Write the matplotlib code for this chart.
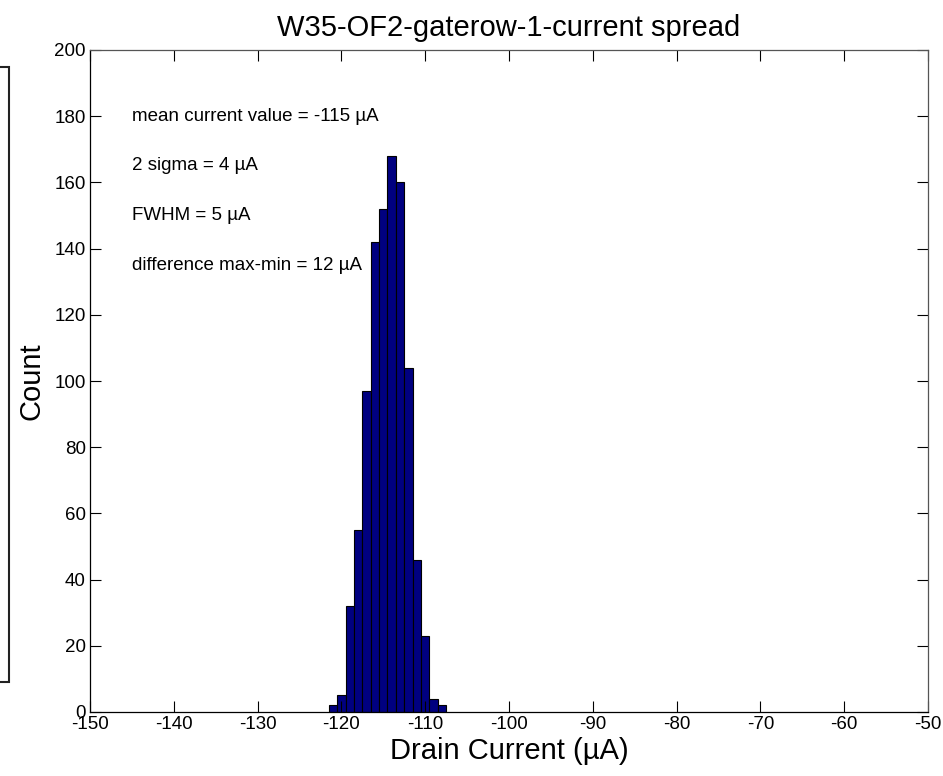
import matplotlib
matplotlib.use("Agg")
import matplotlib.pyplot as plt
from matplotlib.patches import Rectangle

plt.rcParams['font.family'] = ['Liberation Sans', 'DejaVu Sans']

# Data
bin_centers = [-121, -120, -119, -118, -117, -116, -115, -114, -113, -112, -111, -110, -109, -108]
counts = [2, 5, 32, 55, 97, 142, 152, 168, 160, 104, 46, 23, 4, 2]
bin_width = 1.0
x_ticks = [-150, -140, -130, -120, -110, -100, -90, -80, -70, -60, -50]
y_ticks = [0, 20, 40, 60, 80, 100, 120, 140, 160, 180, 200]
title = "W35-OF2-gaterow-1-current spread"
annotations = ["mean current value = -115 \u00b5A", "2 sigma = 4 \u00b5A",
               "FWHM = 5 \u00b5A", "difference max-min = 12 \u00b5A"]
annot_y = [180, 165, 150, 135]
annot_x = -145

W, H = 943, 776
fig = plt.figure(figsize=(W / 100, H / 100), dpi=100)
ax = fig.add_axes([90 / W, (H - 712) / H, 838 / W, 662 / H])

ax.bar(bin_centers, counts, width=bin_width, color='#000080', edgecolor='black', linewidth=0.8)

ax.set_xlim(-150, -50)
ax.set_ylim(0, 200)
ax.set_xticks(x_ticks)
ax.set_yticks(y_ticks)
ax.set_xticklabels([str(t) for t in x_ticks])
ax.set_yticklabels([str(t) for t in y_ticks])
ax.tick_params(direction='in', length=8, width=0.8, top=True, right=True,
               labelsize=13.5, colors='black', pad=3)
for s in ax.spines.values():
    s.set_linewidth(0.9)
    s.set_color('black')
ax.spines['top'].set_color('#555555')
ax.spines['right'].set_color('#555555')

ax.set_title(title, fontsize=21, pad=10)
ax.set_xlabel("Drain Current (\u00b5A)", fontsize=21, labelpad=3)
ax.set_ylabel("Count", fontsize=21, labelpad=6)

for txt, yv in zip(annotations, annot_y):
    ax.text(annot_x, yv, txt, fontsize=13.5, ha='left', va='center')

# partial box at left edge
rect = Rectangle((-20 / W, (H - 682) / H), 29 / W, (682 - 67) / H,
                 transform=fig.transFigure, fill=False, edgecolor='#222222', linewidth=1.5)
fig.patches.append(rect)

fig.savefig("out.png", dpi=100)
